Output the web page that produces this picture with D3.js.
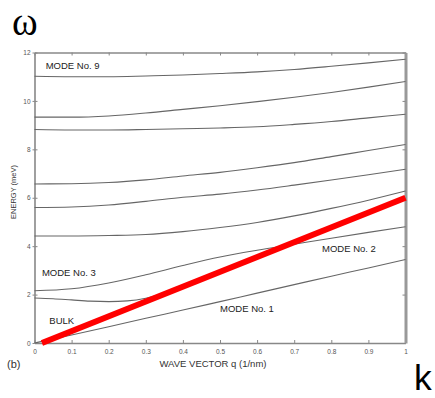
<!DOCTYPE html>
<html><head><meta charset="utf-8">
<script src="https://cdn.jsdelivr.net/npm/d3@7"></script>
<style>body{margin:0;background:#fff}svg{display:block}</style>
</head><body>
<script>
// ---- data ----
const qGrid = [0,0.1,0.2,0.3,0.4,0.5,0.6,0.7,0.8,0.9,1];
const mode1 = [0,0.33,0.67,1.02,1.36,1.71,2.06,2.41,2.76,3.1,3.45];
const mode2q = [0,0.05,0.1,0.15,0.2,0.25,0.3,0.35,0.4];
const mode2 = [1.86,1.83,1.78,1.73,1.71,1.74,1.85,2.05,2.35];
const mode3 = [2.16,2.24,2.48,2.82,3.2,3.55,3.83,4.08,4.33,4.57,4.8];
const mode4 = [4.42,4.42,4.44,4.48,4.6,4.77,4.98,5.25,5.56,5.9,6.28];
const mode5 = [5.6,5.62,5.7,5.85,6.02,6.15,6.32,6.52,6.73,6.95,7.18];
const mode6 = [6.57,6.58,6.63,6.74,6.9,7.05,7.24,7.45,7.7,7.95,8.2];
const mode7 = [8.82,8.8,8.8,8.82,8.85,8.88,8.93,9.03,9.15,9.3,9.45];
const mode8 = [9.33,9.33,9.38,9.5,9.65,9.8,9.97,10.15,10.35,10.57,10.8];
const mode9 = [11.02,11.0,11.0,11.03,11.07,11.13,11.2,11.3,11.43,11.57,11.72];
const redQ = [0.02,1];
const redE = [0,6];
const xTicks = [0,0.1,0.2,0.3,0.4,0.5,0.6,0.7,0.8,0.9,1];
const xTickLabels = ["0","0.1","0.2","0.3","0.4","0.5","0.6","0.7","0.8","0.9","1"];
const yTicks = [0,2,4,6,8,10,12];
const modeLabels = [
  {text:"MODE No. 9", q:0.03, e:11.3},
  {text:"MODE No. 3", q:0.02, e:2.75},
  {text:"MODE No. 2", q:0.775, e:3.75},
  {text:"MODE No. 1", q:0.5, e:1.28},
  {text:"BULK", q:0.04, e:0.78}
];

// ---- chart ----
const W = 435, H = 398;
const svg = d3.select("body").append("svg").attr("width", W).attr("height", H)
  .style("font-family","'Liberation Sans', Arial, sans-serif");
const x = d3.scaleLinear().domain([0,1]).range([34.5,405.5]);
const y = d3.scaleLinear().domain([0,12]).range([343,52.5]);

const curveColor = "#666";
const line = d3.line().x(d=>x(d[0])).y(d=>y(d[1])).curve(d3.curveMonotoneX);

// axes (inward ticks)
const axisColor = "#888";
const gB = svg.append("g").attr("transform",`translate(0,${y(0)})`)
  .call(d3.axisBottom(x).tickValues(xTicks).tickFormat((d,i)=>xTickLabels[i]).tickSizeInner(-3).tickSizeOuter(0).tickPadding(6));
const gT = svg.append("g").attr("transform",`translate(0,${y(12)})`)
  .call(d3.axisTop(x).tickValues(xTicks).tickFormat("").tickSizeInner(-3).tickSizeOuter(0));
const gL = svg.append("g").attr("transform",`translate(${x(0)},0)`)
  .call(d3.axisLeft(y).tickValues(yTicks).tickSizeInner(-3).tickSizeOuter(0).tickPadding(4));
const gR = svg.append("g").attr("transform",`translate(${x(1)},0)`)
  .call(d3.axisRight(y).tickValues(yTicks).tickFormat("").tickSizeInner(-3).tickSizeOuter(0));
[gB,gT,gL,gR].forEach(g=>{
  g.selectAll("path").attr("stroke",axisColor).attr("stroke-width",1.6);
  g.selectAll("line").attr("stroke",axisColor).attr("stroke-width",1);
  g.selectAll("text").attr("fill","#555").style("font-size","6.5px").style("font-family","'Liberation Sans', Arial, sans-serif");
});
gR.select("path").attr("stroke","#999").attr("stroke-width",3);
// small outward stubs on left
gL.selectAll(".tick").append("line").attr("x1",0).attr("x2",-2).attr("stroke",axisColor);

// curves
const modes = [mode1,mode3,mode4,mode5,mode6,mode7,mode8,mode9];
modes.forEach(m=>{
  svg.append("path").datum(qGrid.map((q,i)=>[q,m[i]]))
    .attr("d",line).attr("fill","none").attr("stroke",curveColor).attr("stroke-width",1.1);
});
svg.append("path").datum(mode2q.map((q,i)=>[q,mode2[i]]))
  .attr("d",line).attr("fill","none").attr("stroke",curveColor).attr("stroke-width",1.1);

// red line
svg.append("path").datum(redQ.map((q,i)=>[q,redE[i]]))
  .attr("d",d3.line().x(d=>x(d[0])).y(d=>y(d[1])))
  .attr("fill","none").attr("stroke","#ff0000").attr("stroke-width",6);

// mode labels
modeLabels.forEach(l=>{
  svg.append("text").attr("x",x(l.q)).attr("y",y(l.e)).text(l.text)
    .attr("fill","#222").style("font-size","9.5px");
});

// axis titles
svg.append("text").attr("x",213).attr("y",367).attr("text-anchor","middle")
  .attr("fill","#333").style("font-size","9.5px").text("WAVE VECTOR q  (1/nm)");
svg.append("text").attr("transform","translate(16,192) rotate(-90)").attr("text-anchor","middle")
  .attr("fill","#333").style("font-size","7.5px").text("ENERGY  (meV)");
svg.append("text").attr("x",7).attr("y",368).attr("fill","#333").style("font-size","11px").text("(b)");

// big symbols
svg.append("text").attr("x",12).attr("y",35).attr("fill","#000")
  .style("font-family","'Liberation Serif', 'Times New Roman', serif").style("font-size","39px").text("ω");
svg.append("text").attr("x",414).attr("y",390).attr("fill","#000")
  .style("font-family","'Liberation Sans', Arial, sans-serif").style("font-size","35.5px").text("k");
</script>
</body></html>
